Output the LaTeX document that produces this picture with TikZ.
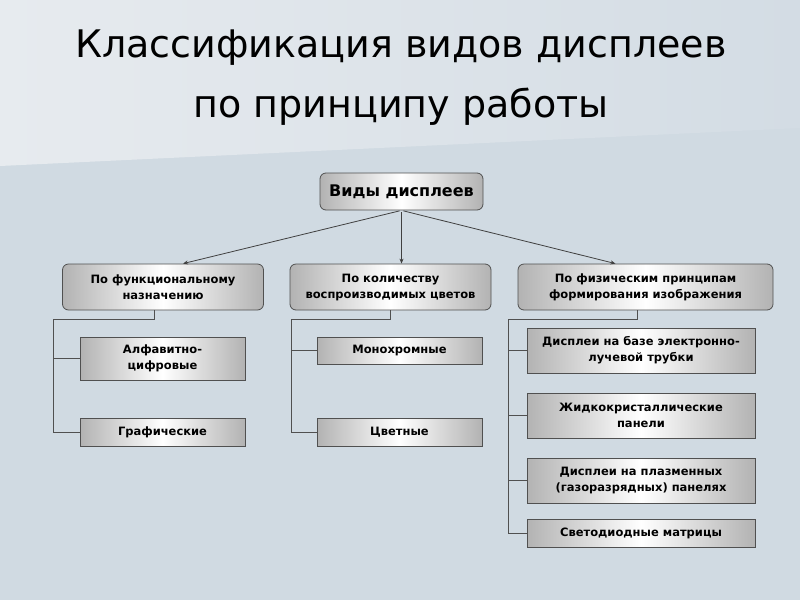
\documentclass[tikz,border=0pt]{standalone}
\usepackage{fontspec}
\setmainfont{DejaVu Sans}
\usetikzlibrary{arrows.meta}
\definecolor{bglow}{HTML}{D0DAE2}
\definecolor{bgtopl}{HTML}{E7EBEF}
\definecolor{bgtopr}{HTML}{D3DCE4}
\definecolor{edge}{HTML}{505050}

\begin{document}
\begin{tikzpicture}[x=1pt,y=-1pt,
    box/.style={draw=edge, line width=0.8pt, left color=gray!60, right color=gray!60,
      middle color=white, inner sep=0pt, align=center,
      font=\bfseries\fontsize{11.5}{16}\selectfont},
    catbox/.style={box, rounded corners=6pt, minimum height=46pt},
    itembox/.style={box, minimum width=165pt},
    physbox/.style={box, minimum width=228pt},
    tree/.style={draw=edge, line width=1pt},
    arr/.style={draw=black!75, line width=0.8pt, -{Stealth[length=5pt,width=4pt]}}]
  %%%%% BACKGROUND %%%%%
  \fill[bglow] (0,0) rectangle (800,600);
  \shade[left color=bgtopl, right color=bgtopr] (0,0) -- (800,0) -- (800,128) -- (0,166) -- cycle;
  \useasboundingbox (0,0) rectangle (800,600);

  %%%%% TITLE %%%%%
  \node[align=center, font=\fontsize{38}{60}\selectfont] (title) at (401,78)
    {Классификация видов дисплеев\\по принципу работы};

  %%%%% BOXES %%%%%
  \node[box, rounded corners=6pt, minimum width=163pt, minimum height=37pt,
    font=\bfseries\fontsize{16}{18}\selectfont] (kinds) at (401.5,191.5) {Виды дисплеев};

  \node[catbox, minimum width=201pt] (func) at (163,287) {По функциональному\\назначению};
  \node[catbox, minimum width=201pt] (colr) at (390.5,287) {По количеству\\воспроизводимых цветов};
  \node[catbox, minimum width=255pt] (phys) at (645.5,287) {По физическим принципам\\формирования изображения};

  \node[itembox, minimum height=43pt] (alnum) at (162.5,358.5) {Алфавитно-\\цифровые};
  \node[itembox, minimum height=28pt] (graph) at (162.5,432) {Графические};
  \node[itembox, minimum height=27pt] (mono) at (399.5,350.5) {Монохромные};
  \node[itembox, minimum height=28pt] (multi) at (399.5,432) {Цветные};

  \node[physbox, minimum height=45pt] (crt) at (641,350.5) {Дисплеи на базе электронно-\\лучевой трубки};
  \node[physbox, minimum height=45pt] (lcd) at (641,415.5) {Жидкокристаллические\\панели};
  \node[physbox, minimum height=45pt] (pdp) at (641,480.5) {Дисплеи на плазменных\\(газоразрядных) панелях};
  \node[physbox, minimum height=28pt] (led) at (641,533) {Светодиодные матрицы};

  %%%%% ARROWS %%%%%
  \draw[arr, shorten <=2pt] (kinds.south) -- ([xshift=20pt]func.north);
  \draw[arr, shorten <=2pt] (kinds.south) -- (kinds.south |- colr.north);
  \draw[arr, shorten <=2pt] (kinds.south) -- ([xshift=-30pt]phys.north);

  %%%%% TREES %%%%%
  \coordinate (fsplit) at (53,319);
  \draw[tree] ([xshift=-9pt]func.south) |- (fsplit) |- (graph.west);
  \draw[tree] (fsplit) |- (alnum.west);

  \coordinate (csplit) at (291,319);
  \draw[tree] (colr.south) |- (csplit) |- (multi.west);
  \draw[tree] (csplit) |- (mono.west);

  \coordinate (psplit) at (508,319);
  \draw[tree] ([xshift=-8pt]phys.south) |- (psplit) |- (led.west);
  \draw[tree] (psplit) |- (crt.west);
  \draw[tree] (psplit) |- (lcd.west);
  \draw[tree] (psplit) |- (pdp.west);
\end{tikzpicture}
\end{document}
